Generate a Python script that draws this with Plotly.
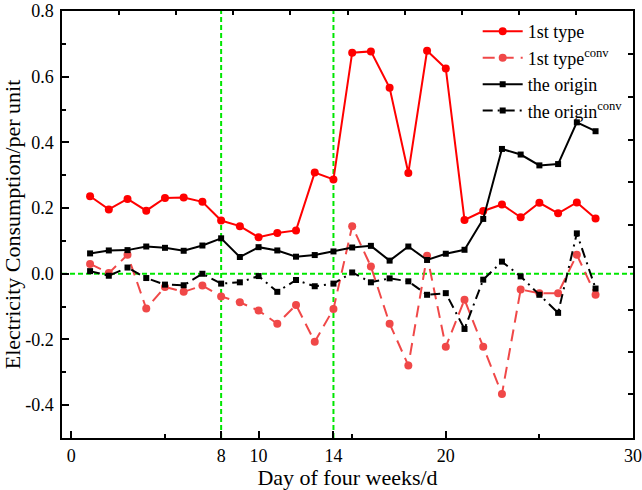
import plotly.graph_objects as go

days = list(range(1, 29))

first_type = [0.236, 0.196, 0.228, 0.192, 0.231, 0.232, 0.219, 0.162, 0.145, 0.111,
              0.124, 0.132, 0.308, 0.287, 0.673, 0.677, 0.566, 0.307, 0.679, 0.625,
              0.164, 0.191, 0.211, 0.172, 0.216, 0.184, 0.217, 0.168]

first_type_conv = [0.030, 0.002, 0.058, -0.106, -0.040, -0.055, -0.036, -0.069, -0.087, -0.112,
                   -0.152, -0.095, -0.207, -0.107, 0.145, 0.022, -0.152, -0.279, 0.055, -0.222,
                   -0.079, -0.222, -0.366, -0.048, -0.059, -0.059, 0.058, -0.064]

origin = [0.062, 0.071, 0.072, 0.083, 0.079, 0.070, 0.086, 0.108, 0.051, 0.081,
          0.071, 0.052, 0.057, 0.068, 0.080, 0.085, 0.040, 0.083, 0.042, 0.061,
          0.073, 0.167, 0.380, 0.363, 0.330, 0.334, 0.461, 0.434]

origin_conv = [0.008, -0.006, 0.019, -0.013, -0.033, -0.035, 0.000, -0.030, -0.026, -0.007,
               -0.055, -0.019, -0.038, -0.030, 0.004, -0.026, -0.014, -0.023, -0.064, -0.059,
               -0.168, -0.018, 0.037, -0.008, -0.064, -0.119, 0.123, -0.045]

x_tickvals = [0, 8, 10, 14, 20, 30]
x_ticktext = ["0", "8", "10", "14", "20", "30"]
y_tickvals = [-0.4, -0.2, 0.0, 0.2, 0.4, 0.6, 0.8]
y_ticktext = ["-0.4", "-0.2", "0.0", "0.2", "0.4", "0.6", "0.8"]
top_tickvals = [2.56, 5.6, 8.65, 11.7, 14.75, 17.8, 20.85, 23.9, 26.95]
right_tickvals = [0.669, 0.537, 0.408, 0.279, 0.150, 0.020, -0.109, -0.238, -0.367]
guide_days = [8, 14]

FONT = "Liberation Serif, Times New Roman, serif"
RED = "#ff0000"
RED2 = "#f04848"
GREEN = "#00e600"

fig = go.Figure()

fig.add_trace(go.Scatter(x=days, y=first_type, name="1st type", mode="lines+markers",
                         line=dict(color=RED, width=2), marker=dict(symbol="circle", size=8, color=RED)))
fig.add_trace(go.Scatter(x=days, y=first_type_conv, name="1st type<sup>conv</sup>", mode="lines+markers",
                         line=dict(color=RED2, width=2, dash="12px,7px"),
                         marker=dict(symbol="circle", size=8, color=RED2)))
fig.add_trace(go.Scatter(x=days, y=origin, name="the origin", mode="lines+markers",
                         line=dict(color="black", width=2), marker=dict(symbol="square", size=6, color="black")))
fig.add_trace(go.Scatter(x=days, y=origin_conv, name="the origin<sup>conv</sup>", mode="lines+markers",
                         line=dict(color="black", width=2, dash="10px,5px,2px,5px"),
                         marker=dict(symbol="square", size=6, color="black")))
fig.add_trace(go.Scatter(x=[None], y=[None], xaxis="x2", yaxis="y2", showlegend=False, hoverinfo="skip"))

for d in guide_days:
    fig.add_shape(type="line", xref="x", yref="paper", x0=d, x1=d, y0=0, y1=1,
                  line=dict(color=GREEN, width=2, dash="5px,3px"), layer="below")
fig.add_shape(type="line", xref="paper", yref="y", x0=0, x1=1, y0=0, y1=0,
              line=dict(color=GREEN, width=2, dash="5px,3px"), layer="below")

fig.update_layout(
    width=642, height=490,
    margin=dict(l=62, r=9, t=11, b=52, autoexpand=False),
    paper_bgcolor="white", plot_bgcolor="white",
    font=dict(family=FONT, size=18, color="black"),
    showlegend=True,
    legend=dict(x=0.728, y=0.995, xanchor="left", yanchor="top", bgcolor="rgba(0,0,0,0)",
                font=dict(family=FONT, size=18), tracegroupgap=0, itemwidth=40),
    xaxis=dict(range=[-0.5, 30], showgrid=False, zeroline=False, showline=True, linecolor="black",
               linewidth=1.5, ticks="inside", ticklen=7, tickwidth=1.5, tickcolor="black",
               tickmode="array", tickvals=x_tickvals, ticktext=x_ticktext, automargin=False,
               minor=dict(tickmode="array", tickvals=[5, 15, 25], ticks="inside", ticklen=4,
                          tickwidth=1.5, tickcolor="black", showgrid=False),
               tickfont=dict(family=FONT, size=18), ticklabelstandoff=1,
               title=dict(text="Day of four weeks/d", font=dict(family=FONT, size=22), standoff=0)),
    yaxis=dict(range=[-0.5, 0.8], showgrid=False, zeroline=False, showline=True, linecolor="black",
               linewidth=1.5, ticks="inside", ticklen=7, tickwidth=1.5, tickcolor="black",
               tickmode="array", tickvals=y_tickvals, ticktext=y_ticktext, automargin=False,
               minor=dict(dtick=0.1, tick0=0, ticks="inside", ticklen=4, tickwidth=1.5,
                          tickcolor="black", showgrid=False),
               tickfont=dict(family=FONT, size=18), ticklabelstandoff=3,
               title=dict(text="Electricity Consumption/per unit", font=dict(family=FONT, size=22), standoff=4)),
    xaxis2=dict(overlaying="x", side="top", anchor="y", range=[-0.5, 30], showgrid=False, zeroline=False,
                showline=True, linecolor="black", linewidth=1.5, ticks="inside", ticklen=4, tickwidth=1.5,
                tickcolor="black", tickmode="array", tickvals=top_tickvals, showticklabels=False,
                automargin=False),
    yaxis2=dict(overlaying="y", side="right", anchor="x", range=[-0.5, 0.8], showgrid=False, zeroline=False,
                showline=True, linecolor="black", linewidth=1.5, ticks="inside", ticklen=5, tickwidth=1.5,
                tickcolor="black", tickmode="array", tickvals=right_tickvals, showticklabels=False,
                automargin=False),
)

fig.write_html("out.html", config={"displayModeBar": False},
               post_script="document.body.style.margin='0';")
